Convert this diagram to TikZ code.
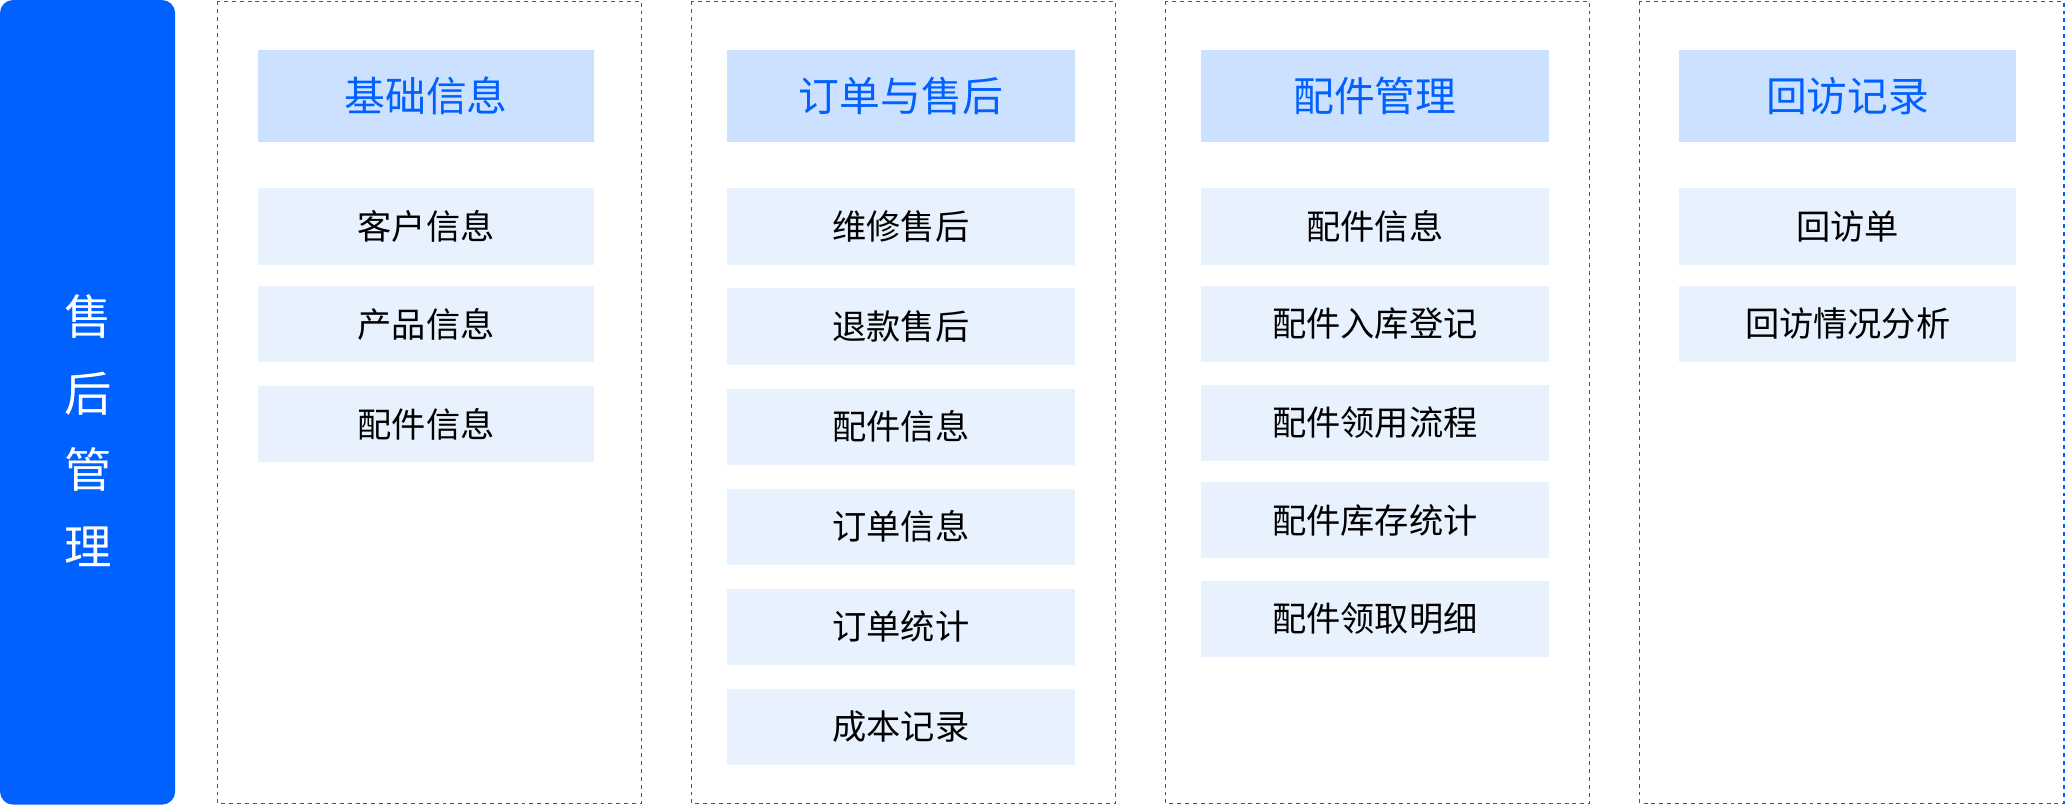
\documentclass[tikz,border=0pt]{standalone}
\usepackage{fontspec}
\setmainfont{Noto Sans CJK SC}
\definecolor{mblue}{HTML}{0061FF}
\definecolor{hfill}{HTML}{CCE0FF}
\definecolor{ifill}{HTML}{E8F1FE}
\begin{document}
\begin{tikzpicture}[x=1pt,y=-1pt,
  col/.style={draw=mblue,dashed,line width=1.2pt},
  hdr/.style={fill=hfill,text=mblue,font=\fontsize{31}{31}\selectfont},
  itm/.style={fill=ifill,text=black,font=\fontsize{26}{26}\selectfont}]
\useasboundingbox (0,0) rectangle (1568,612);
\fill[mblue,rounded corners=10pt] (0,0) rectangle (133,611);
\node[text=white,font=\fontsize{36}{58}\selectfont,align=center] (side) at (67,327) {售\\后\\管\\理};
\foreach \x in {165,525,885,1245}{
  \draw[col] (\x,1) rectangle (\x+322,610);
}
\newcommand\mkbox[7]{\fill[#1] (#2,#3) rectangle (#4,#5); \node[#1,fill=none] (#7) at ({(#2+#4)/2},{(#3+#5)/2}) {#6};}
\mkbox{hdr}{196}{38}{451}{108}{基础信息}{h1}
\mkbox{hdr}{552}{38}{816}{108}{订单与售后}{h2}
\mkbox{hdr}{912}{38}{1176}{108}{配件管理}{h3}
\mkbox{hdr}{1275}{38}{1531}{108}{回访记录}{h4}
\foreach \a/\b/\t in {143/201/客户信息,217/275/产品信息,293/351/配件信息}{\mkbox{itm}{196}{\a}{451}{\b}{\t}{a\a}}
\foreach \a/\b/\t in {143/201/维修售后,219/277/退款售后,295/353/配件信息,371/429/订单信息,447/505/订单统计,523/581/成本记录}{\mkbox{itm}{552}{\a}{816}{\b}{\t}{b\a}}
\foreach \a/\b/\t in {143/201/配件信息,217/275/配件入库登记,292/350/配件领用流程,366/424/配件库存统计,441/499/配件领取明细}{\mkbox{itm}{912}{\a}{1176}{\b}{\t}{c\a}}
\foreach \a/\b/\t in {143/201/回访单,217/275/回访情况分析}{\mkbox{itm}{1275}{\a}{1531}{\b}{\t}{d\a}}
\end{tikzpicture}
\end{document}
